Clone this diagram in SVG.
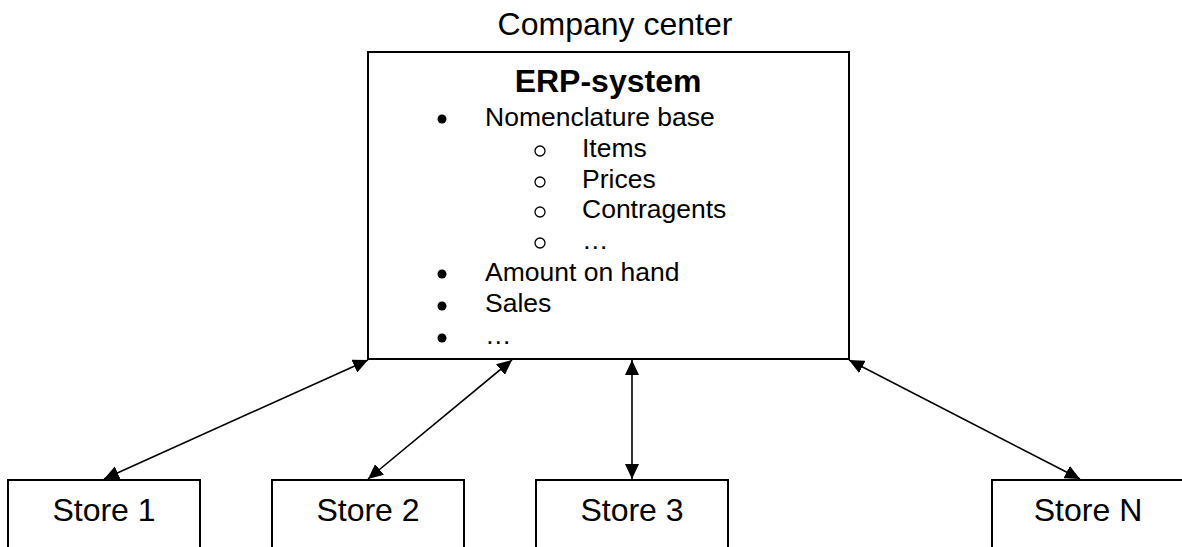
<svg xmlns="http://www.w3.org/2000/svg" width="1182" height="547" viewBox="0 0 1182 547">
<style>
  text { font-family: "Liberation Sans", Arial, sans-serif; fill: #000; }
  .box { fill: #fff; stroke: #000; stroke-width: 2; }
  .title { font-size: 32px; }
  .bold { font-size: 32px; font-weight: bold; }
  .item { font-size: 26.5px; }
  .store { font-size: 32px; }
  .conn { stroke: #000; stroke-width: 1.6; fill: none; marker-start: url(#arrow); marker-end: url(#arrow); }
  .sub { fill: none; stroke: #000; stroke-width: 1.3; }
</style>
<defs>
  <marker id="arrow" viewBox="0 0 15 14" refX="15" refY="7" markerWidth="15" markerHeight="14" markerUnits="userSpaceOnUse" orient="auto-start-reverse">
    <path d="M0,0 L15,7 L0,14 z" fill="#000"/>
  </marker>
</defs>
<rect width="1182" height="547" fill="#fff"/>
<text class="title" x="615" y="35" text-anchor="middle">Company center</text>
<g id="erp">
  <rect class="box" x="368" y="52" width="481" height="307"/>
  <text class="bold" x="608" y="92" text-anchor="middle">ERP-system</text>
  <circle cx="442" cy="119" r="4.5"/>
  <text class="item" x="485" y="126">Nomenclature base</text>
  <circle class="sub" cx="540" cy="151" r="5"/>
  <text class="item" x="582" y="157">Items</text>
  <circle class="sub" cx="540" cy="182" r="5"/>
  <text class="item" x="582" y="188">Prices</text>
  <circle class="sub" cx="540" cy="212" r="5"/>
  <text class="item" x="582" y="218">Contragents</text>
  <circle class="sub" cx="540" cy="243" r="5"/>
  <text class="item" x="582" y="249">…</text>
  <circle cx="442" cy="274" r="4.5"/>
  <text class="item" x="485" y="281">Amount on hand</text>
  <circle cx="442" cy="306" r="4.5"/>
  <text class="item" x="485" y="312">Sales</text>
  <circle cx="442" cy="338" r="4.5"/>
  <text class="item" x="485" y="344">…</text>
</g>
<g id="store1">
  <rect class="box" x="8" y="480" width="192" height="90"/>
  <text class="store" x="104" y="521" text-anchor="middle">Store 1</text>
</g>
<g id="store2">
  <rect class="box" x="272" y="480" width="192" height="90"/>
  <text class="store" x="368" y="521" text-anchor="middle">Store 2</text>
</g>
<g id="store3">
  <rect class="box" x="536" y="480" width="192" height="90"/>
  <text class="store" x="632" y="521" text-anchor="middle">Store 3</text>
</g>
<g id="storeN">
  <rect class="box" x="992" y="480" width="192" height="90"/>
  <text class="store" x="1088" y="521" text-anchor="middle">Store N</text>
</g>
<g id="connectors">
  <line class="conn" x1="104" y1="479" x2="368" y2="360"/>
  <line class="conn" x1="368" y1="479" x2="512" y2="360"/>
  <line class="conn" x1="632" y1="479" x2="632" y2="360"/>
  <line class="conn" x1="1080" y1="479" x2="849" y2="360"/>
</g>
</svg>
